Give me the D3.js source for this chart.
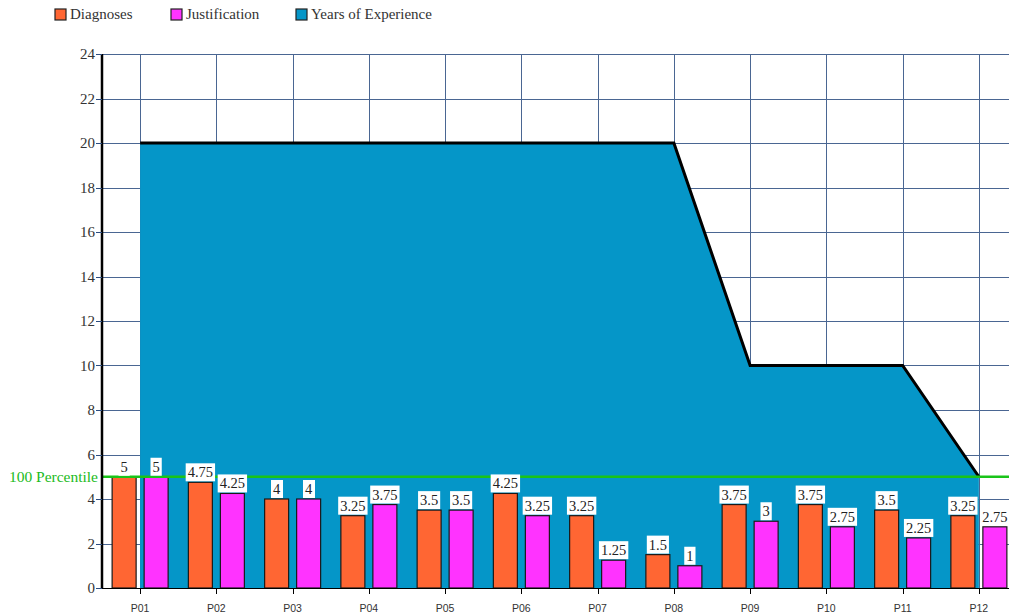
<!DOCTYPE html>
<html>
<head>
<meta charset="utf-8">
<script src="https://cdn.jsdelivr.net/npm/d3@7"></script>
<style>
  body { margin: 0; background: #fff; }
  svg { display: block; }
</style>
</head>
<body>
<div id="chart"></div>
<script>
var categories = ["P01", "P02", "P03", "P04", "P05", "P06", "P07", "P08", "P09", "P10", "P11", "P12"]
var diagnoses = [5, 4.75, 4, 3.25, 3.5, 4.25, 3.25, 1.5, 3.75, 3.75, 3.5, 3.25]
var justification = [5, 4.25, 4, 3.75, 3.5, 3.25, 1.25, 1, 3, 2.75, 2.25, 2.75]
var experience = [20, 20, 20, 20, 20, 20, 20, 20, 10, 10, 10, 5]
var yTicks = [0, 2, 4, 6, 8, 10, 12, 14, 16, 18, 20, 22, 24]
var percentile = 5

var seriesNames = ["Diagnoses", "Justification", "Years of Experience"]
var colors = ["#ff6633", "#ff33ff", "#0596c8"]

var width = 1009
var height = 615
// plot box (can't use "top" as a global name, it's window.top)
var pLeft = 102, pRight = 1017, pTop = 54, pBottom = 588

var svg = d3.select("#chart").append("svg")
  .attr("width", width).attr("height", height)

var x = d3.scaleBand().domain(categories).range([pLeft, pRight])
var sub = d3.scaleBand().domain([0, 1]).range([-28, 28]).paddingInner(0.25)
var y = d3.scaleLinear().domain([0, 24]).range([pBottom, pTop])

function cx(c) { return x(c) + x.bandwidth() / 2 }

// grid
var grid = svg.append("g").attr("stroke", "#2b4c80").attr("stroke-width", 1).attr("opacity", 0.85)
grid.selectAll("line.h").data(yTicks).enter().append("line")
  .attr("x1", pLeft).attr("x2", pRight)
  .attr("y1", function(d) { return Math.round(y(d)) + 0.5 }).attr("y2", function(d) { return Math.round(y(d)) + 0.5 })
grid.selectAll("line.v").data(categories).enter().append("line")
  .attr("x1", function(d) { return Math.round(cx(d)) + 0.5 }).attr("x2", function(d) { return Math.round(cx(d)) + 0.5 })
  .attr("y1", pTop).attr("y2", pBottom)

// experience area
var pts = categories.map(function(c, i) { return [cx(c), experience[i]] })
var area = d3.area().x(function(d) { return d[0] }).y0(y(0)).y1(function(d) { return y(d[1]) })
svg.append("path").datum(pts).attr("d", area).attr("fill", colors[2])
svg.append("path").datum(pts)
  .attr("d", d3.line().x(function(d) { return d[0] }).y(function(d) { return y(d[1]) }))
  .attr("fill", "none").attr("stroke", "#000").attr("stroke-width", 3)

// bars
var barData = []
categories.forEach(function(c, i) {
  barData.push({ cat: c, s: 0, v: diagnoses[i] })
  barData.push({ cat: c, s: 1, v: justification[i] })
})
svg.append("g").selectAll("rect").data(barData).enter().append("rect")
  .attr("x", function(d) { return cx(d.cat) + sub(d.s) })
  .attr("width", sub.bandwidth())
  .attr("y", function(d) { return y(d.v) })
  .attr("height", function(d) { return y(0) - y(d.v) })
  .attr("fill", function(d) { return colors[d.s] })
  .attr("stroke", "#1a1a1a").attr("stroke-width", 1.2)

// 100 percentile line
svg.append("line")
  .attr("x1", pLeft).attr("x2", pRight)
  .attr("y1", y(percentile)).attr("y2", y(percentile))
  .attr("stroke", "#19c419").attr("stroke-width", 2.5)
svg.append("text")
  .attr("x", 98).attr("y", y(percentile) + 5)
  .attr("text-anchor", "end")
  .style("font-family", "Liberation Serif").style("font-size", "15.5px")
  .attr("fill", "#22bb22")
  .text("100 Percentile")

// value labels
var labels = svg.append("g").selectAll("g").data(barData).enter().append("g")
  .attr("transform", function(d) {
    return "translate(" + (cx(d.cat) + sub(d.s) + sub.bandwidth() / 2) + "," + (y(d.v) - 1) + ")"
  })
labels.append("text")
  .attr("text-anchor", "middle").attr("y", -4)
  .style("font-family", "Liberation Serif").style("font-size", "14.5px")
  .attr("fill", "#222")
  .text(function(d) { return d.v })
labels.insert("rect", "text")
  .each(function(d) {
    var t = d3.select(this.parentNode).select("text").node().getBBox()
    d3.select(this).attr("x", t.x - 2).attr("y", -18).attr("width", t.width + 4).attr("height", 18)
  })
  .attr("fill", "#fff")

// axes
svg.append("line").attr("x1", pLeft).attr("x2", pRight).attr("y1", pBottom + 0.5).attr("y2", pBottom + 0.5)
  .attr("stroke", "#000").attr("stroke-width", 1)
svg.append("g").selectAll("line").data(categories).enter().append("line")
  .attr("x1", function(d) { return Math.round(cx(d)) + 0.5 }).attr("x2", function(d) { return Math.round(cx(d)) + 0.5 })
  .attr("y1", pBottom).attr("y2", pBottom + 6).attr("stroke", "#000")
svg.append("g").selectAll("text").data(categories).enter().append("text")
  .attr("x", function(d) { return cx(d) }).attr("y", 612)
  .attr("text-anchor", "middle")
  .style("font-family", "Liberation Sans").style("font-size", "10.5px")
  .attr("fill", "#333")
  .text(function(d) { return d })

svg.append("line").attr("x1", pLeft).attr("x2", pLeft).attr("y1", pTop).attr("y2", pBottom + 1)
  .attr("stroke", "#000").attr("stroke-width", 2.5)
svg.append("g").selectAll("line").data(yTicks).enter().append("line")
  .attr("x1", pLeft - 6).attr("x2", pLeft)
  .attr("y1", function(d) { return Math.round(y(d)) + 0.5 }).attr("y2", function(d) { return Math.round(y(d)) + 0.5 })
  .attr("stroke", "#2b4c80")
svg.append("g").selectAll("text").data(yTicks).enter().append("text")
  .attr("x", pLeft - 7).attr("y", function(d) { return y(d) + 5 })
  .attr("text-anchor", "end")
  .style("font-family", "Liberation Serif").style("font-size", "15px")
  .attr("fill", "#333")
  .text(function(d) { return d })

// legend
var legendX = [55, 171, 296]
var legend = svg.append("g").selectAll("g").data(seriesNames).enter().append("g")
  .attr("transform", function(d, i) { return "translate(" + legendX[i] + ",9)" })
legend.append("rect").attr("width", 11).attr("height", 11)
  .attr("fill", function(d, i) { return colors[i] })
  .attr("stroke", "#222").attr("stroke-width", 1.2)
legend.append("text").attr("x", 15).attr("y", 10)
  .style("font-family", "Liberation Serif").style("font-size", "15px")
  .attr("fill", "#333")
  .text(function(d) { return d })
</script>
</body>
</html>
